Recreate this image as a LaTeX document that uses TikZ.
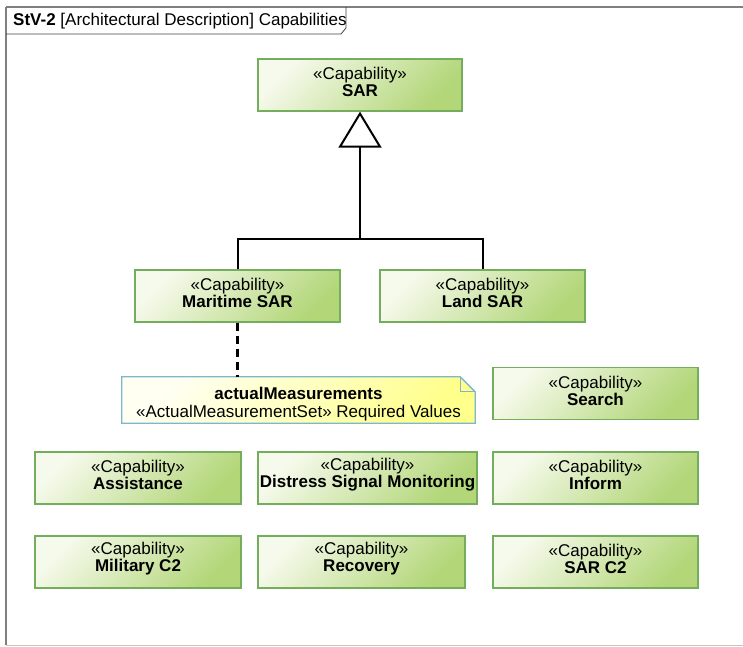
\documentclass[tikz,border=0pt]{standalone}
\usepackage{fontspec}
\setmainfont{Liberation Sans}
\usetikzlibrary{arrows.meta}
\definecolor{capborder}{HTML}{74AE5C}
\definecolor{caplight}{HTML}{F6FAEC}
\definecolor{capdark}{HTML}{B2D678}
\definecolor{noteborder}{HTML}{7FB6CC}
\definecolor{notelight}{HTML}{FFFFF2}
\definecolor{notedark}{HTML}{FFFF8C}
\definecolor{framegray}{HTML}{7F7F7F}
\tikzset{
  capbox/.style={draw=capborder, line width=1.3pt, top color=caplight, bottom color=capdark, shading angle=45,
    minimum height=52pt, inner sep=0pt},
  captext/.style={inner sep=0pt, align=center, font=\fontsize{17}{17}\selectfont},
  gen/.style={line width=2pt, draw=black},
  trace/.style={line width=3.5pt, dash pattern=on 8pt off 5pt},
}
\newcommand{\capnode}[4]{\node[capbox, minimum width=#3pt] (#1) at (#2) {};
  \node[captext] (#1-t) at ([yshift=3pt]#1.center) {«Capability»\\\textbf{#4}};}
\begin{document}
\begin{tikzpicture}[x=1pt,y=-1pt]
\useasboundingbox (0,0) rectangle (743,646);
% frame
\draw[framegray, line width=2.2pt] (6,7) -- (743,7);
\draw[framegray, line width=2pt] (6,7) -- (6,645);
\draw[gray!45, line width=1pt] (6,645) -- (743,645);
\draw[black!75, line width=0.8pt] (6,34) -- (341,34) -- (346,28) -- (346,7);
\node[anchor=west, inner sep=0pt, font=\fontsize{17}{18}\selectfont] (title) at (13,21) {\textbf{StV-2} [Architectural Description] Capabilities};
% capability boxes
\capnode{sar}{360,85}{204}{SAR}
\capnode{mar}{237.5,296}{205}{Maritime SAR}
\capnode{land}{482.5,296}{205}{Land SAR}
\capnode{search}{595.5,393.5}{205}{Search}
\capnode{assist}{138,478}{206}{Assistance}
\capnode{distress}{367.5,478}{219}{Distress Signal Monitoring}
\capnode{inform}{595.5,478}{205}{Inform}
\capnode{mil}{138,562}{206}{Military C2}
\capnode{recov}{361.5,562}{207}{Recovery}
\capnode{sarc2}{595.5,562}{205}{SAR C2}
% note
\node[minimum width=353pt, minimum height=46pt, inner sep=0pt] (note) at (298.5,400) {};
\fill[top color=notelight, bottom color=notedark, shading angle=45]
  (note.south west) -- (note.north west) -- ([xshift=-15pt]note.north east) -- ([yshift=-15pt]note.north east) -- (note.south east) -- cycle;
\draw[noteborder, line width=1.3pt]
  (note.south west) -- (note.north west) -- ([xshift=-15pt]note.north east) -- ([yshift=-15pt]note.north east) -- (note.south east) -- cycle;
\draw[noteborder, line width=1pt] ([xshift=-15pt]note.north east) -- ([xshift=-15pt,yshift=-15pt]note.north east) -- ([yshift=-15pt]note.north east);
\node[align=center, inner sep=0pt, font=\fontsize{17}{18}\selectfont] (notetext) at ([yshift=-4pt]note.center) {\textbf{actualMeasurements}\\«ActualMeasurementSet» Required Values};
% generalization
\coordinate (join) at (360,239);
\draw[gen] (mar.north) |- (join) -| (land.north);
\draw[gen, -{Triangle[open, length=36pt, width=43pt, line width=2pt]}] (join) -- (sar.south);
% dashed link to note
\draw[trace] (mar.south) -- (mar.south |- note.north);
\end{tikzpicture}
\end{document}
